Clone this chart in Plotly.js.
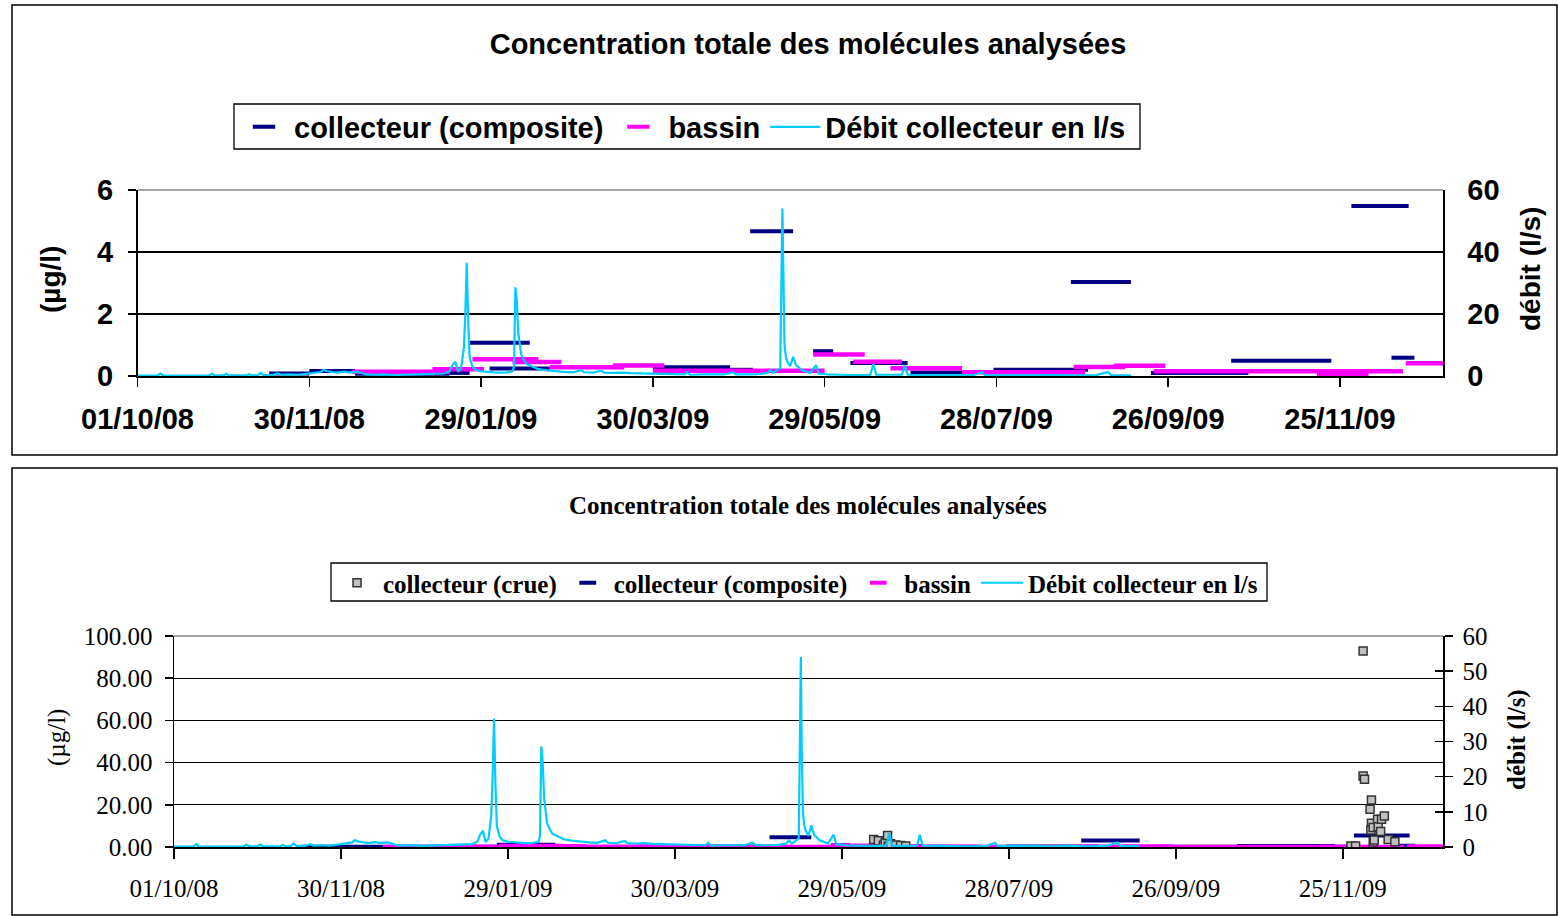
<!DOCTYPE html>
<html>
<head>
<meta charset="utf-8">
<script src="https://cdn.plot.ly/plotly-3.0.1.min.js"></script>
<style>html,body{margin:0;padding:0;background:#fff;}</style>
</head>
<body>
<div id="chart" style="width:1558px;height:916px;"></div>
<script>
// ---------- DATA ----------
const chartTitle = 'Concentration totale des molécules analysées';
const nameCrue = 'collecteur (crue)';
const nameComp = 'collecteur (composite)';
const nameBassin = 'bassin';
const nameFlow = 'Débit collecteur en l/s';

// Débit collecteur (l/s)
const flowDates = ['2008-10-01','2008-10-04','2008-10-08','2008-10-09','2008-10-10','2008-10-15','2008-10-20','2008-10-26','2008-10-27','2008-10-28',
'2008-10-31','2008-11-01','2008-11-02','2008-11-06','2008-11-08','2008-11-09','2008-11-10','2008-11-12','2008-11-13','2008-11-14',
'2008-11-17','2008-11-19','2008-11-20','2008-11-23','2008-11-26','2008-11-28','2008-11-30','2008-12-02','2008-12-04','2008-12-05',
'2008-12-06','2008-12-08','2008-12-10','2008-12-12','2008-12-14','2008-12-17','2008-12-19','2008-12-20','2008-12-23','2008-12-26',
'2008-12-29','2009-01-01','2009-01-04','2009-01-07','2009-01-10','2009-01-13','2009-01-16','2009-01-18','2009-01-19','2009-01-20',
'2009-01-21','2009-01-22','2009-01-23','2009-01-23 12:00','2009-01-24','2009-01-24 12:00','2009-01-25','2009-01-26','2009-01-27','2009-01-29',
'2009-02-01','2009-02-04','2009-02-07','2009-02-09','2009-02-09 12:00','2009-02-10','2009-02-10 12:00','2009-02-11','2009-02-12','2009-02-13',
'2009-02-14','2009-02-16','2009-02-18','2009-02-21','2009-02-24','2009-02-27','2009-03-02','2009-03-05','2009-03-06','2009-03-09',
'2009-03-12','2009-03-13','2009-03-16','2009-03-19','2009-03-22','2009-03-26','2009-03-30','2009-04-02','2009-04-06','2009-04-10',
'2009-04-11','2009-04-12','2009-04-16','2009-04-20','2009-04-24','2009-04-27','2009-04-28','2009-05-02','2009-05-06','2009-05-09',
'2009-05-10','2009-05-11','2009-05-12','2009-05-13 12:00','2009-05-14 06:00','2009-05-14 14:00','2009-05-15','2009-05-15 12:00','2009-05-16','2009-05-17',
'2009-05-18','2009-05-19','2009-05-21','2009-05-24','2009-05-26','2009-05-27','2009-05-30','2009-06-03','2009-06-07','2009-06-11',
'2009-06-14','2009-06-15','2009-06-16','2009-06-20','2009-06-25','2009-06-26','2009-06-27','2009-07-02','2009-07-08','2009-07-14',
'2009-07-20','2009-07-23','2009-07-24','2009-07-30','2009-08-05','2009-08-12','2009-08-18','2009-08-25','2009-09-01','2009-09-05',
'2009-09-06','2009-09-13'];
const flowValues = [0.1,0.1,0.2,0.8,0.1,0.1,0.2,0.2,0.7,0.2,
0.2,0.7,0.2,0.2,0.2,0.6,0.2,0.3,1.0,0.3,
0.3,0.8,0.4,0.5,0.4,0.6,0.8,1.1,1.3,2.0,
1.6,1.3,1.1,1.4,1.2,1.3,0.9,0.5,0.4,0.5,
0.3,0.4,0.5,0.4,0.5,0.6,0.8,1.5,3.5,4.6,
1.4,2.4,9.0,20.0,36.5,18.0,6.0,3.0,2.0,1.5,
1.2,1.1,1.2,1.5,3.0,28.6,24.0,14.0,7.0,5.0,
3.8,3.0,2.2,1.8,1.5,1.3,1.2,1.9,1.2,1.1,
1.7,1.1,1.0,1.1,0.9,0.8,0.6,0.5,0.4,0.5,
1.2,0.4,0.5,0.4,0.5,1.2,0.5,0.5,0.6,1.0,
1.9,1.0,1.5,2.5,54.0,27.0,10.0,6.0,4.6,3.2,
6.2,3.5,1.9,1.0,3.5,0.8,0.5,0.4,0.3,0.3,
0.4,3.9,0.4,0.3,0.4,3.5,0.4,0.3,0.3,0.2,
0.3,1.2,0.3,0.2,0.3,0.2,0.3,0.2,0.3,1.3,
0.3,0.2];

// collecteur (composite), µg/l : sampling period start / end and value
const compStart = ['2008-11-16','2008-11-30','2008-12-16','2009-01-18','2009-01-25','2009-02-01','2009-03-30','2009-04-26','2009-05-03','2009-05-25',
'2009-06-07','2009-06-28','2009-07-27','2009-08-23','2009-09-20','2009-10-18','2009-11-21','2009-11-29','2009-12-13'];
const compEnd = ['2008-11-30','2008-12-16','2009-01-18','2009-01-25','2009-02-15','2009-02-22','2009-04-26','2009-05-04','2009-05-18','2009-06-01',
'2009-06-27','2009-07-18','2009-08-29','2009-09-13','2009-10-24','2009-11-22','2009-12-01','2009-12-19','2009-12-21'];
const compValue = [0.08,0.16,0.07,0.10,1.07,0.24,0.28,0.20,4.67,0.80,
0.42,0.11,0.20,3.03,0.10,0.49,0.14,5.48,0.59];

// bassin, µg/l
const bassinStart = ['2008-12-15','2009-01-12','2009-01-26','2009-02-09','2009-02-22','2009-03-16','2009-03-30','2009-05-25','2009-06-08','2009-06-21',
'2009-07-16','2009-08-24','2009-09-07','2009-09-21','2009-11-17','2009-12-18'];
const bassinEnd = ['2009-01-18','2009-01-30','2009-02-18','2009-02-26','2009-03-20','2009-04-03','2009-05-29','2009-06-12','2009-06-25','2009-07-16',
'2009-08-28','2009-09-11','2009-09-25','2009-12-17','2009-12-05','2010-01-02'];
const bassinValue = [0.14,0.22,0.54,0.45,0.28,0.34,0.17,0.69,0.46,0.25,
0.12,0.29,0.33,0.15,0.075,0.41];

// collecteur (crue), µg/l
const crueDates = ['2009-06-09 10:00','2009-06-11 02:00','2009-06-12 22:00','2009-06-13 14:00','2009-06-14 10:00','2009-06-14 16:00','2009-06-15 12:00','2009-06-17 08:00','2009-06-19 02:00','2009-06-20 22:00',
'2009-11-27 22:00','2009-11-29 14:00','2009-12-02 07:00','2009-12-02 07:00','2009-12-02 19:00','2009-12-05 07:00','2009-12-04 19:00','2009-12-05 07:00','2009-12-05 02:00','2009-12-05 22:00',
'2009-12-05 22:00','2009-12-06 07:00','2009-12-07 12:00','2009-12-07 17:00','2009-12-08 14:00','2009-12-08 22:00','2009-12-09 22:00','2009-12-11 07:00','2009-12-13 17:00'];
const crueValues = [3.5,3.0,0.8,2.0,5.5,0.4,1.5,1.0,0.7,0.5,
0.5,0.5,92.9,33.6,32.1,22.3,17.9,11.2,8.1,9.3,
2.4,3.3,13.1,9.6,7.3,13.1,14.7,3.6,2.5];

const xRange = ['2008-10-01','2009-12-31'];
const xTick0 = '2008-10-01';
const xTickDays = 60;

// ---------- BUILD ----------
function segs(starts, ends, vals){
  const x=[], y=[];
  for(let i=0;i<vals.length;i++){ x.push(starts[i], ends[i], null); y.push(vals[i], vals[i], null); }
  return {x, y};
}
const comp = segs(compStart, compEnd, compValue);
const bas = segs(bassinStart, bassinEnd, bassinValue);

const NAVY='#000080', MAG='#FF00FF', CYAN='#00CCFF';
const SANS='Liberation Sans, Arial, sans-serif';
const SERIF='Liberation Serif, Times New Roman, serif';
const W=1558, H=916;
const px=v=>v/W, py=v=>1-v/H;

const traces = [
  // top chart
  {x:comp.x, y:comp.y, xaxis:'x', yaxis:'y', mode:'lines', line:{color:NAVY,width:4}, showlegend:false, legendgroup:'c1', hoverinfo:'skip'},
  {x:bas.x, y:bas.y, xaxis:'x', yaxis:'y', mode:'lines', line:{color:MAG,width:4.5}, showlegend:false, legendgroup:'b1', hoverinfo:'skip'},
  {x:flowDates, y:flowValues, xaxis:'x', yaxis:'y2', mode:'lines', name:nameFlow, line:{color:CYAN,width:2.2}, legend:'legend', legendrank:3},
  {x:[null], y:[null], xaxis:'x', yaxis:'y', mode:'markers', name:nameComp, legendgroup:'c1', legend:'legend', legendrank:1,
   marker:{symbol:'line-ew', size:16, line:{width:4,color:NAVY}}},
  {x:[null], y:[null], xaxis:'x', yaxis:'y', mode:'markers', name:nameBassin, legendgroup:'b1', legend:'legend', legendrank:2,
   marker:{symbol:'line-ew', size:16, line:{width:4,color:MAG}}},
  // bottom chart
  {x:comp.x, y:comp.y, xaxis:'x2', yaxis:'y3', mode:'lines', line:{color:NAVY,width:4}, showlegend:false, legendgroup:'c2', hoverinfo:'skip'},
  {x:bas.x, y:bas.y, xaxis:'x2', yaxis:'y3', mode:'lines', line:{color:MAG,width:4}, showlegend:false, legendgroup:'b2', hoverinfo:'skip'},
  {x:flowDates, y:flowValues, xaxis:'x2', yaxis:'y4', mode:'lines', name:nameFlow, line:{color:CYAN,width:2.2}, legend:'legend2', legendrank:4},
  {x:crueDates, y:crueValues, xaxis:'x2', yaxis:'y3', mode:'markers', name:nameCrue, legend:'legend2', legendrank:1,
   marker:{symbol:'square', size:8, color:'#C0C0C0', line:{width:1.5,color:'#333333'}}},
  {x:[null], y:[null], xaxis:'x2', yaxis:'y3', mode:'markers', name:nameComp, legendgroup:'c2', legend:'legend2', legendrank:2,
   marker:{symbol:'line-ew', size:12, line:{width:4,color:NAVY}}},
  {x:[null], y:[null], xaxis:'x2', yaxis:'y3', mode:'markers', name:nameBassin, legendgroup:'b2', legend:'legend2', legendrank:3,
   marker:{symbol:'line-ew', size:12, line:{width:4,color:MAG}}},
  // helper for the inner half of the crossing ticks of the right axis (no data)
  {x:[null], y:[null], xaxis:'x2', yaxis:'y5', mode:'markers', showlegend:false, hoverinfo:'skip'}
];

const dt = xTickDays*86400000;
const topTick = {family:SANS, size:29, color:'#000', weight:'bold'};
const botTick = {family:SERIF, size:25, color:'#000'};

const layout = {
  width:W, height:H, autosize:false,
  margin:{l:0,r:0,t:0,b:0},
  paper_bgcolor:'#fff', plot_bgcolor:'#fff',
  showlegend:true,
  title:{text:chartTitle, font:{family:SANS,size:29,color:'#000',weight:'bold'}, x:px(808), xanchor:'center', y:py(44), yanchor:'middle'},
  xaxis:{type:'date', domain:[px(137.5),px(1443)], anchor:'y', range:xRange, tick0:xTick0, dtick:dt, tickformat:'%d/%m/%y',
    showline:true, linecolor:'#000', linewidth:1.5, ticks:'outside', ticklen:9, tickwidth:1.5, tickcolor:'#000',
    showgrid:false, zeroline:false, tickfont:topTick, ticklabelstandoff:8},
  yaxis:{domain:[py(376),py(190)], anchor:'x', range:[0,6], dtick:2, showline:true, linecolor:'#000', linewidth:1.5,
    ticks:'outside', ticklen:8, tickwidth:1.5, tickcolor:'#000', showgrid:true, gridcolor:'#000', gridwidth:1.2,
    zeroline:false, tickfont:topTick, ticklabelstandoff:9},
  yaxis2:{overlaying:'y', side:'right', anchor:'x', range:[0,60], dtick:20, showline:true, linecolor:'#000', linewidth:1.5,
    ticks:'inside', ticklen:8, tickwidth:1.5, tickcolor:'#000', showgrid:false, zeroline:false, tickfont:topTick, ticklabelstandoff:17},
  xaxis2:{type:'date', domain:[px(174),px(1443)], anchor:'y3', range:xRange, tick0:xTick0, dtick:dt, tickformat:'%d/%m/%y',
    showline:true, linecolor:'#000', linewidth:1.5, ticks:'outside', ticklen:10, tickwidth:1.5, tickcolor:'#000',
    showgrid:false, zeroline:false, tickfont:botTick, ticklabelstandoff:8},
  yaxis3:{domain:[py(847),py(636)], anchor:'x2', range:[0,100], dtick:20, tickformat:'.2f', showline:true, linecolor:'#000', linewidth:1.5,
    ticks:'outside', ticklen:8, tickwidth:1.5, tickcolor:'#000', showgrid:true, gridcolor:'#000', gridwidth:1.2,
    zeroline:false, tickfont:botTick, ticklabelstandoff:7},
  yaxis4:{overlaying:'y3', side:'right', anchor:'x2', range:[0,60], dtick:10, showline:true, linecolor:'#000', linewidth:1.5,
    ticks:'outside', ticklen:8, tickwidth:1.5, tickcolor:'#000', showgrid:false, zeroline:false, tickfont:botTick, ticklabelstandoff:5},
  yaxis5:{overlaying:'y3', side:'right', anchor:'x2', range:[0,60], dtick:10, showline:false, showticklabels:false,
    ticks:'inside', ticklen:8, tickwidth:1.5, tickcolor:'#000', showgrid:false, zeroline:false},
  legend:{orientation:'h', x:px(234), y:py(127), xanchor:'left', yanchor:'middle', bgcolor:'rgba(0,0,0,0)', borderwidth:0,
    font:{family:SANS,size:29,color:'#000',weight:'bold'}, itemwidth:50, traceorder:'normal'},
  legend2:{orientation:'h', x:px(331), y:py(583), xanchor:'left', yanchor:'middle', bgcolor:'rgba(0,0,0,0)', borderwidth:0,
    font:{family:SERIF,size:25,color:'#000',weight:'bold'}, itemwidth:42, traceorder:'normal'},
  shapes:[
    {type:'rect', xref:'paper', yref:'paper', x0:px(12), x1:px(1557), y0:py(455), y1:py(5), line:{color:'#000',width:1.5}, layer:'below'},
    {type:'rect', xref:'paper', yref:'paper', x0:px(12), x1:px(1557), y0:py(915), y1:py(468), line:{color:'#000',width:1.5}, layer:'below'},
    {type:'rect', xref:'paper', yref:'paper', x0:px(234), x1:px(1140), y0:py(149), y1:py(104), line:{color:'#000',width:1.3}, fillcolor:'#fff', layer:'below'},
    {type:'rect', xref:'paper', yref:'paper', x0:px(331), x1:px(1267), y0:py(601), y1:py(563), line:{color:'#000',width:1.3}, fillcolor:'#fff', layer:'below'},
    {type:'line', xref:'x domain', yref:'y domain', x0:0, x1:1, y0:1, y1:1, line:{color:'#888',width:1.5}, layer:'below'},
    {type:'line', xref:'x2 domain', yref:'y3 domain', x0:0, x1:1, y0:1, y1:1, line:{color:'#888',width:1.5}, layer:'below'}
  ],
  annotations:[
    {text:chartTitle, xref:'paper', yref:'paper', x:px(808), y:py(505), xanchor:'center', yanchor:'middle', showarrow:false,
     font:{family:SERIF,size:25,color:'#000',weight:'bold'}},
    {text:'(µg/l)', xref:'paper', yref:'paper', x:px(50), y:py(280), xanchor:'center', yanchor:'middle', showarrow:false, textangle:-90,
     font:{family:SANS,size:28,color:'#000',weight:'bold'}},
    {text:'débit (l/s)', xref:'paper', yref:'paper', x:px(1530), y:py(269), xanchor:'center', yanchor:'middle', showarrow:false, textangle:-90,
     font:{family:SANS,size:28,color:'#000',weight:'bold'}},
    {text:'(µg/l)', xref:'paper', yref:'paper', x:px(57), y:py(738), xanchor:'center', yanchor:'middle', showarrow:false, textangle:-90,
     font:{family:SERIF,size:25,color:'#000'}},
    {text:'débit (l/s)', xref:'paper', yref:'paper', x:px(1517), y:py(740), xanchor:'center', yanchor:'middle', showarrow:false, textangle:-90,
     font:{family:SERIF,size:25,color:'#000',weight:'bold'}}
  ]
};

Plotly.newPlot('chart', traces, layout, {displayModeBar:false, staticPlot:true});
</script>
</body>
</html>
